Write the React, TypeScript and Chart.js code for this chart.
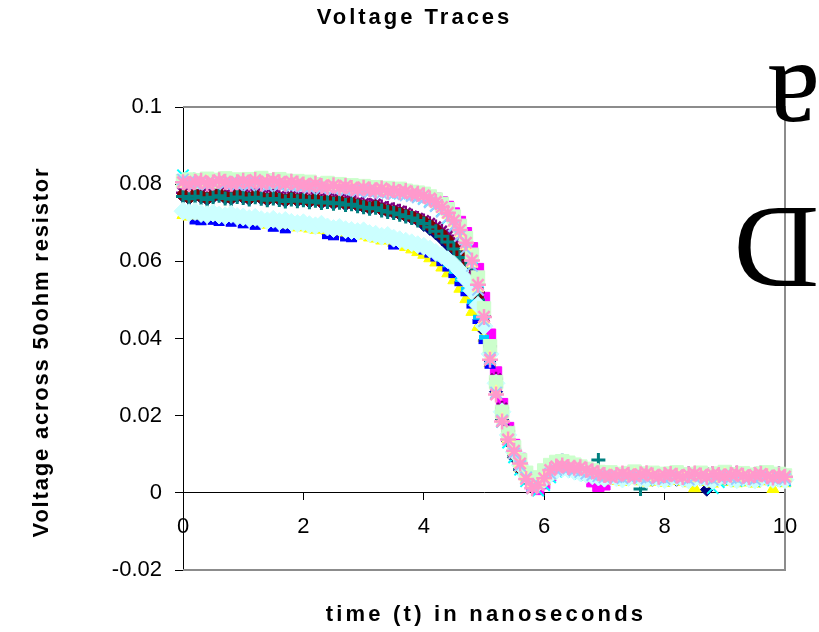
import React, { useEffect, useRef } from "react";
import { Chart, registerables } from "chart.js";

Chart.register(...registerables);

const TITLE = "Voltage Traces";
const X_TITLE = "time (t) in nanoseconds";
const Y_TITLE = "Voltage across 50ohm resistor";

const X_MIN = 0;
const X_MAX = 10;
const X_STEP = 2;
const Y_MIN = -0.02;
const Y_MAX = 0.1;
const Y_STEP = 0.02;

const TIME_NS = [
  0, 0.1, 0.2, 0.3, 0.4, 0.5, 0.6, 0.7, 0.8, 0.9,
  1, 1.1, 1.2, 1.3, 1.4, 1.5, 1.6, 1.7, 1.8, 1.9,
  2, 2.1, 2.2, 2.3, 2.4, 2.5, 2.6, 2.7, 2.8, 2.9,
  3, 3.1, 3.2, 3.3, 3.4, 3.5, 3.6, 3.7, 3.8, 3.9,
  4, 4.1, 4.2, 4.3, 4.4, 4.5, 4.6, 4.7, 4.8, 4.9,
  5, 5.1, 5.2, 5.3, 5.4, 5.5, 5.6, 5.7, 5.8, 5.9,
  6, 6.1, 6.2, 6.3, 6.4, 6.5, 6.6, 6.7, 6.8, 6.9,
  7, 7.1, 7.2, 7.3, 7.4, 7.5, 7.6, 7.7, 7.8, 7.9,
  8, 8.1, 8.2, 8.3, 8.4, 8.5, 8.6, 8.7, 8.8, 8.9,
  9, 9.1, 9.2, 9.3, 9.4, 9.5, 9.6, 9.7, 9.8, 9.9, 10,
];

const TRACE_01 = [
  0.0769, 0.0763, 0.0770, 0.0766, 0.0761, 0.0767, 0.0771, 0.0764, 0.0762, 0.0768,
  0.0765, 0.0761, 0.0767, 0.0763, 0.0759, 0.0764, 0.0760, 0.0756, 0.0761, 0.0757,
  0.0759, 0.0754, 0.0758, 0.0752, 0.0755, 0.0750, 0.0753, 0.0747, 0.0749, 0.0744,
  0.0741, 0.0737, 0.0740, 0.0733, 0.0729, 0.0726, 0.0722, 0.0717, 0.0712, 0.0706,
  0.0694, 0.0684, 0.0672, 0.0658, 0.0642, 0.0622, 0.0598, 0.0568, 0.0531, 0.0484,
  0.0420, 0.0343, 0.0262, 0.0190, 0.0133, 0.0091, 0.0058, 0.0036, 0.0023, 0.0022,
  0.0032, 0.0048, 0.0061, 0.0068, 0.0066, 0.0059, 0.0052, 0.0047, 0.0043, 0.0040,
  0.0036, 0.0040, 0.0043, 0.0039, 0.0035, 0.0041, 0.0044, 0.0038, 0.0034, 0.0040,
  0.0043, 0.0038, 0.0034, 0.0040, 0.0044, 0.0039, 0.0035, 0.0008, 0.0045, 0.0040,
  0.0036, 0.0042, 0.0046, 0.0041, 0.0037, 0.0043, 0.0047, 0.0042, 0.0038, 0.0044, 0.0040,
];

const TRACE_02 = [
  0.0803, 0.0807, 0.0801, 0.0806, 0.0809, 0.0803, 0.0807, 0.0810, 0.0804, 0.0808,
  0.0805, 0.0809, 0.0803, 0.0808, 0.0811, 0.0805, 0.0808, 0.0803, 0.0806, 0.0801,
  0.0804, 0.0799, 0.0802, 0.0796, 0.0800, 0.0795, 0.0798, 0.0793, 0.0796, 0.0791,
  0.0793, 0.0789, 0.0791, 0.0786, 0.0788, 0.0784, 0.0786, 0.0781, 0.0779, 0.0777,
  0.0774, 0.0769, 0.0762, 0.0753, 0.0741, 0.0724, 0.0702, 0.0673, 0.0634, 0.0580,
  0.0505, 0.0410, 0.0312, 0.0230, 0.0168, 0.0124, 0.0088, 0.0050, 0.0018, 0.0010,
  0.0025, 0.0045, 0.0060, 0.0068, 0.0070, 0.0066, 0.0061, 0.0055, 0.0030, 0.0018,
  0.0022, 0.0040, 0.0044, 0.0048, 0.0045, 0.0041, 0.0046, 0.0049, 0.0044, 0.0040,
  0.0044, 0.0047, 0.0042, 0.0039, 0.0045, 0.0048, 0.0043, 0.0040, 0.0046, 0.0044,
  0.0041, 0.0045, 0.0048, 0.0042, 0.0039, 0.0044, 0.0047, 0.0041, 0.0038, 0.0043, 0.0040,
];

const TRACE_03 = [
  0.0720, 0.0716, 0.0719, 0.0714, 0.0711, 0.0715, 0.0710, 0.0708, 0.0712, 0.0706,
  0.0705, 0.0701, 0.0704, 0.0698, 0.0695, 0.0699, 0.0693, 0.0696, 0.0691, 0.0688,
  0.0690, 0.0685, 0.0682, 0.0686, 0.0679, 0.0675, 0.0678, 0.0672, 0.0670, 0.0667,
  0.0669, 0.0662, 0.0659, 0.0654, 0.0655, 0.0648, 0.0643, 0.0637, 0.0631, 0.0624,
  0.0617, 0.0608, 0.0597, 0.0584, 0.0569, 0.0551, 0.0529, 0.0502, 0.0469, 0.0430,
  0.0402, 0.0336, 0.0264, 0.0196, 0.0140, 0.0098, 0.0064, 0.0040, 0.0026, 0.0022,
  0.0030, 0.0044, 0.0055, 0.0061, 0.0060, 0.0054, 0.0048, 0.0043, 0.0039, 0.0036,
  0.0032, 0.0035, 0.0031, 0.0028, 0.0033, 0.0036, 0.0030, 0.0027, 0.0032, 0.0029,
  0.0026, 0.0031, 0.0034, 0.0029, 0.0025, 0.0012, 0.0033, 0.0028, 0.0024, 0.0030,
  0.0034, 0.0028, 0.0025, 0.0031, 0.0027, 0.0024, 0.0030, 0.0033, 0.0010, 0.0029, 0.0025,
];

const TRACE_04 = [
  0.0823, 0.0815, 0.0809, 0.0812, 0.0806, 0.0810, 0.0804, 0.0808, 0.0811, 0.0805,
  0.0809, 0.0803, 0.0807, 0.0801, 0.0805, 0.0808, 0.0802, 0.0806, 0.0800, 0.0803,
  0.0798, 0.0801, 0.0795, 0.0798, 0.0792, 0.0795, 0.0790, 0.0793, 0.0787, 0.0790,
  0.0785, 0.0788, 0.0782, 0.0785, 0.0779, 0.0782, 0.0776, 0.0778, 0.0772, 0.0769,
  0.0763, 0.0755, 0.0744, 0.0730, 0.0712, 0.0690, 0.0662, 0.0627, 0.0582, 0.0520,
  0.0440, 0.0348, 0.0258, 0.0184, 0.0130, 0.0092, 0.0060, 0.0030, 0.0012, 0.0006,
  0.0020, 0.0040, 0.0055, 0.0062, 0.0060, 0.0055, 0.0050, 0.0046, 0.0043, 0.0040,
  0.0037, 0.0041, 0.0038, 0.0035, 0.0039, 0.0042, 0.0037, 0.0034, 0.0040, 0.0036,
  0.0033, 0.0038, 0.0041, 0.0036, 0.0032, 0.0037, 0.0040, 0.0035, 0.0012, 0.0028,
  0.0038, 0.0034, 0.0031, 0.0037, 0.0033, 0.0030, 0.0036, 0.0039, 0.0032, 0.0035, 0.0031,
];

const TRACE_05 = [
  0.0778, 0.0772, 0.0779, 0.0775, 0.0770, 0.0776, 0.0780, 0.0773, 0.0771, 0.0777,
  0.0774, 0.0770, 0.0776, 0.0772, 0.0768, 0.0773, 0.0769, 0.0765, 0.0770, 0.0766,
  0.0768, 0.0763, 0.0767, 0.0761, 0.0764, 0.0759, 0.0762, 0.0756, 0.0758, 0.0753,
  0.0750, 0.0746, 0.0749, 0.0742, 0.0738, 0.0735, 0.0731, 0.0726, 0.0718, 0.0712,
  0.0706, 0.0699, 0.0690, 0.0679, 0.0666, 0.0650, 0.0629, 0.0602, 0.0567, 0.0520,
  0.0458, 0.0380, 0.0296, 0.0220, 0.0160, 0.0114, 0.0078, 0.0050, 0.0032, 0.0026,
  0.0035, 0.0050, 0.0062, 0.0068, 0.0066, 0.0060, 0.0055, 0.0051, 0.0047, 0.0044,
  0.0041, 0.0045, 0.0049, 0.0046, 0.0042, 0.0047, 0.0050, 0.0045, 0.0041, 0.0046,
  0.0049, 0.0044, 0.0040, 0.0046, 0.0050, 0.0045, 0.0041, 0.0047, 0.0051, 0.0046,
  0.0042, 0.0048, 0.0052, 0.0047, 0.0043, 0.0049, 0.0053, 0.0048, 0.0044, 0.0050, 0.0046,
];

const TRACE_06 = [
  0.0772, 0.0766, 0.0773, 0.0769, 0.0764, 0.0770, 0.0774, 0.0767, 0.0765, 0.0771,
  0.0768, 0.0764, 0.0770, 0.0766, 0.0762, 0.0767, 0.0763, 0.0759, 0.0764, 0.0760,
  0.0762, 0.0757, 0.0761, 0.0755, 0.0758, 0.0753, 0.0756, 0.0750, 0.0752, 0.0747,
  0.0744, 0.0740, 0.0743, 0.0736, 0.0732, 0.0729, 0.0725, 0.0720, 0.0716, 0.0710,
  0.0702, 0.0693, 0.0682, 0.0669, 0.0654, 0.0636, 0.0614, 0.0586, 0.0551, 0.0504,
  0.0440, 0.0362, 0.0279, 0.0205, 0.0145, 0.0100, 0.0065, 0.0040, 0.0026, 0.0024,
  0.0034, 0.0051, 0.0065, 0.0073, 0.0071, 0.0063, 0.0056, 0.0051, 0.0047, 0.0044,
  0.0040, 0.0044, 0.0047, 0.0043, 0.0039, 0.0045, 0.0048, 0.0042, 0.0038, 0.0044,
  0.0047, 0.0042, 0.0038, 0.0044, 0.0048, 0.0043, 0.0039, 0.0045, 0.0049, 0.0044,
  0.0040, 0.0046, 0.0050, 0.0045, 0.0041, 0.0047, 0.0051, 0.0046, 0.0042, 0.0048, 0.0044,
];

const TRACE_07 = [
  0.0768, 0.0762, 0.0769, 0.0765, 0.0760, 0.0766, 0.0770, 0.0763, 0.0761, 0.0767,
  0.0764, 0.0760, 0.0766, 0.0762, 0.0758, 0.0763, 0.0759, 0.0755, 0.0760, 0.0756,
  0.0758, 0.0753, 0.0757, 0.0751, 0.0754, 0.0749, 0.0752, 0.0746, 0.0748, 0.0743,
  0.0740, 0.0736, 0.0739, 0.0732, 0.0728, 0.0725, 0.0721, 0.0716, 0.0712, 0.0706,
  0.0698, 0.0689, 0.0678, 0.0665, 0.0650, 0.0632, 0.0610, 0.0582, 0.0547, 0.0500,
  0.0436, 0.0358, 0.0275, 0.0201, 0.0142, 0.0098, 0.0063, 0.0039, 0.0025, 0.0023,
  0.0034, 0.0051, 0.0065, 0.0083, 0.0070, 0.0062, 0.0055, 0.0050, 0.0046, 0.0085,
  0.0039, 0.0043, 0.0046, 0.0042, 0.0038, 0.0044, 0.0010, 0.0041, 0.0037, 0.0043,
  0.0046, 0.0041, 0.0037, 0.0043, 0.0047, 0.0042, 0.0038, 0.0044, 0.0048, 0.0043,
  0.0039, 0.0045, 0.0049, 0.0044, 0.0040, 0.0046, 0.0050, 0.0045, 0.0041, 0.0047, 0.0043,
];

const TRACE_08 = [
  0.0728, 0.0722, 0.0702, 0.0700, 0.0719, 0.0701, 0.0698, 0.0715, 0.0696, 0.0713,
  0.0692, 0.0708, 0.0688, 0.0705, 0.0702, 0.0683, 0.0700, 0.0679, 0.0698, 0.0695,
  0.0697, 0.0692, 0.0689, 0.0693, 0.0664, 0.0661, 0.0685, 0.0658, 0.0656, 0.0674,
  0.0676, 0.0669, 0.0667, 0.0662, 0.0664, 0.0637, 0.0653, 0.0649, 0.0645, 0.0640,
  0.0624, 0.0616, 0.0606, 0.0594, 0.0580, 0.0563, 0.0542, 0.0516, 0.0484, 0.0444,
  0.0392, 0.0328, 0.0258, 0.0192, 0.0138, 0.0097, 0.0065, 0.0041, 0.0027, 0.0024,
  0.0032, 0.0045, 0.0056, 0.0062, 0.0061, 0.0055, 0.0049, 0.0044, 0.0040, 0.0037,
  0.0033, 0.0036, 0.0032, 0.0029, 0.0034, 0.0037, 0.0031, 0.0028, 0.0033, 0.0030,
  0.0027, 0.0032, 0.0035, 0.0030, 0.0026, 0.0031, 0.0034, 0.0029, 0.0025, 0.0031,
  0.0035, 0.0029, 0.0026, 0.0032, 0.0028, 0.0025, 0.0031, 0.0034, 0.0027, 0.0030, 0.0026,
];

const TRACE_09 = [
  0.0728, 0.0724, 0.0720, 0.0725, 0.0719, 0.0716, 0.0721, 0.0714, 0.0711, 0.0715,
  0.0709, 0.0706, 0.0710, 0.0703, 0.0700, 0.0704, 0.0698, 0.0701, 0.0695, 0.0697,
  0.0692, 0.0689, 0.0692, 0.0685, 0.0682, 0.0686, 0.0679, 0.0676, 0.0678, 0.0672,
  0.0674, 0.0668, 0.0665, 0.0668, 0.0661, 0.0658, 0.0654, 0.0650, 0.0645, 0.0640,
  0.0635, 0.0627, 0.0617, 0.0605, 0.0591, 0.0574, 0.0553, 0.0527, 0.0495, 0.0455,
  0.0403, 0.0338, 0.0267, 0.0200, 0.0144, 0.0102, 0.0068, 0.0044, 0.0029, 0.0026,
  0.0034, 0.0047, 0.0058, 0.0064, 0.0063, 0.0057, 0.0051, 0.0046, 0.0042, 0.0039,
  0.0035, 0.0038, 0.0034, 0.0031, 0.0036, 0.0039, 0.0033, 0.0030, 0.0035, 0.0032,
  0.0029, 0.0034, 0.0037, 0.0032, 0.0028, 0.0033, 0.0036, 0.0031, 0.0027, 0.0033,
  0.0037, 0.0031, 0.0028, 0.0034, 0.0030, 0.0027, 0.0033, 0.0036, 0.0029, 0.0032, 0.0028,
];

const TRACE_10 = [
  0.0730, 0.0726, 0.0729, 0.0724, 0.0721, 0.0725, 0.0720, 0.0718, 0.0722, 0.0716,
  0.0715, 0.0711, 0.0714, 0.0708, 0.0705, 0.0709, 0.0703, 0.0706, 0.0701, 0.0698,
  0.0700, 0.0695, 0.0692, 0.0696, 0.0689, 0.0685, 0.0688, 0.0682, 0.0680, 0.0677,
  0.0679, 0.0672, 0.0670, 0.0665, 0.0667, 0.0660, 0.0656, 0.0652, 0.0648, 0.0643,
  0.0639, 0.0632, 0.0623, 0.0615, 0.0604, 0.0592, 0.0575, 0.0553, 0.0524, 0.0486,
  0.0432, 0.0360, 0.0284, 0.0210, 0.0150, 0.0106, 0.0072, 0.0046, 0.0030, 0.0026,
  0.0035, 0.0048, 0.0057, 0.0063, 0.0061, 0.0056, 0.0052, 0.0048, 0.0044, 0.0041,
  0.0038, 0.0042, 0.0039, 0.0036, 0.0040, 0.0043, 0.0038, 0.0035, 0.0041, 0.0037,
  0.0034, 0.0039, 0.0042, 0.0037, 0.0033, 0.0038, 0.0041, 0.0036, 0.0032, 0.0039,
  0.0043, 0.0037, 0.0034, 0.0040, 0.0036, 0.0033, 0.0039, 0.0042, 0.0035, 0.0038, 0.0034,
];

const TRACE_11 = [
  0.0808, 0.0812, 0.0806, 0.0810, 0.0814, 0.0807, 0.0811, 0.0815, 0.0809, 0.0812,
  0.0806, 0.0813, 0.0809, 0.0816, 0.0810, 0.0807, 0.0813, 0.0809, 0.0804, 0.0808,
  0.0803, 0.0806, 0.0800, 0.0798, 0.0803, 0.0797, 0.0800, 0.0794, 0.0797, 0.0792,
  0.0795, 0.0790, 0.0792, 0.0787, 0.0790, 0.0785, 0.0788, 0.0783, 0.0780, 0.0778,
  0.0775, 0.0768, 0.0760, 0.0749, 0.0735, 0.0716, 0.0692, 0.0660, 0.0617, 0.0558,
  0.0478, 0.0380, 0.0287, 0.0210, 0.0155, 0.0118, 0.0085, 0.0052, 0.0030, 0.0040,
  0.0058, 0.0072, 0.0080, 0.0082, 0.0078, 0.0073, 0.0068, 0.0062, 0.0058, 0.0054,
  0.0050, 0.0053, 0.0049, 0.0046, 0.0051, 0.0055, 0.0050, 0.0047, 0.0052, 0.0049,
  0.0045, 0.0050, 0.0053, 0.0048, 0.0044, 0.0049, 0.0052, 0.0047, 0.0043, 0.0050,
  0.0054, 0.0048, 0.0045, 0.0051, 0.0047, 0.0044, 0.0050, 0.0053, 0.0046, 0.0049, 0.0045,
];

const TRACE_12 = [
  0.0802, 0.0806, 0.0800, 0.0804, 0.0807, 0.0801, 0.0805, 0.0808, 0.0802, 0.0806,
  0.0803, 0.0807, 0.0801, 0.0805, 0.0808, 0.0802, 0.0806, 0.0800, 0.0804, 0.0799,
  0.0801, 0.0796, 0.0799, 0.0793, 0.0797, 0.0791, 0.0794, 0.0789, 0.0792, 0.0787,
  0.0789, 0.0784, 0.0787, 0.0782, 0.0784, 0.0779, 0.0781, 0.0777, 0.0774, 0.0771,
  0.0766, 0.0759, 0.0749, 0.0736, 0.0720, 0.0699, 0.0673, 0.0639, 0.0594, 0.0530,
  0.0448, 0.0352, 0.0262, 0.0190, 0.0141, 0.0106, 0.0074, 0.0042, 0.0020, 0.0024,
  0.0040, 0.0056, 0.0065, 0.0069, 0.0066, 0.0063, 0.0060, 0.0056, 0.0052, 0.0048,
  0.0044, 0.0047, 0.0043, 0.0040, 0.0045, 0.0048, 0.0043, 0.0040, 0.0046, 0.0043,
  0.0039, 0.0044, 0.0047, 0.0042, 0.0038, 0.0043, 0.0046, 0.0041, 0.0037, 0.0044,
  0.0048, 0.0042, 0.0039, 0.0045, 0.0041, 0.0038, 0.0044, 0.0047, 0.0040, 0.0043, 0.0039,
];

const TRACE_13 = [
  0.0812, 0.0806, 0.0801, 0.0805, 0.0799, 0.0803, 0.0807, 0.0800, 0.0804, 0.0798,
  0.0802, 0.0797, 0.0804, 0.0799, 0.0795, 0.0801, 0.0796, 0.0799, 0.0794, 0.0797,
  0.0793, 0.0790, 0.0794, 0.0788, 0.0791, 0.0786, 0.0789, 0.0784, 0.0786, 0.0781,
  0.0784, 0.0779, 0.0781, 0.0776, 0.0779, 0.0774, 0.0776, 0.0771, 0.0769, 0.0766,
  0.0761, 0.0753, 0.0743, 0.0729, 0.0713, 0.0692, 0.0666, 0.0632, 0.0588, 0.0526,
  0.0445, 0.0350, 0.0260, 0.0188, 0.0138, 0.0102, 0.0070, 0.0040, 0.0018, 0.0022,
  0.0037, 0.0050, 0.0059, 0.0065, 0.0063, 0.0058, 0.0054, 0.0050, 0.0046, 0.0043,
  0.0040, 0.0044, 0.0041, 0.0038, 0.0042, 0.0045, 0.0040, 0.0037, 0.0043, 0.0039,
  0.0036, 0.0041, 0.0044, 0.0039, 0.0035, 0.0040, 0.0043, 0.0038, 0.0034, 0.0041,
  0.0045, 0.0039, 0.0036, 0.0042, 0.0038, 0.0035, 0.0041, 0.0044, 0.0037, 0.0040, 0.0036,
];

const TRACE_14 = [
  0.0805, 0.0800, 0.0806, 0.0809, 0.0802, 0.0804, 0.0810, 0.0806, 0.0801, 0.0805,
  0.0809, 0.0804, 0.0811, 0.0802, 0.0806, 0.0810, 0.0805, 0.0801, 0.0806, 0.0802,
  0.0799, 0.0796, 0.0801, 0.0795, 0.0792, 0.0797, 0.0791, 0.0795, 0.0790, 0.0786,
  0.0791, 0.0786, 0.0784, 0.0789, 0.0781, 0.0785, 0.0780, 0.0782, 0.0776, 0.0775,
  0.0771, 0.0763, 0.0754, 0.0741, 0.0726, 0.0706, 0.0681, 0.0648, 0.0602, 0.0539,
  0.0456, 0.0345, 0.0255, 0.0185, 0.0138, 0.0109, 0.0076, 0.0036, 0.0012, 0.0020,
  0.0038, 0.0059, 0.0068, 0.0071, 0.0067, 0.0065, 0.0066, 0.0060, 0.0056, 0.0051,
  0.0046, 0.0042, 0.0046, 0.0050, 0.0047, 0.0043, 0.0048, 0.0051, 0.0045, 0.0042,
  0.0046, 0.0049, 0.0044, 0.0041, 0.0047, 0.0050, 0.0045, 0.0042, 0.0048, 0.0046,
  0.0043, 0.0047, 0.0050, 0.0044, 0.0041, 0.0046, 0.0049, 0.0043, 0.0040, 0.0045, 0.0042,
];

const SERIES_NAMES = [
  "Series1", "Series2", "Series3", "Series4", "Series5", "Series6", "Series7",
  "Series8", "Series9", "Series10", "Series11", "Series12", "Series13", "Series14",
];
const SERIES_VALUES = [
  TRACE_01, TRACE_02, TRACE_03, TRACE_04, TRACE_05, TRACE_06, TRACE_07,
  TRACE_08, TRACE_09, TRACE_10, TRACE_11, TRACE_12, TRACE_13, TRACE_14,
];

// marker styling (Excel-like default sequence)
const MARKERS = [
  { color: "#000080", style: "rectRot", r: 6.5, lw: 1 },
  { color: "#FF00FF", style: "rect", r: 8, lw: 1 },
  { color: "#FFFF00", style: "triangle", r: 7, lw: 1 },
  { color: "#00FFFF", style: "crossRot", r: 8, lw: 2 },
  { color: "#800080", style: "star", r: 7, lw: 2.5 },
  { color: "#800000", style: "circle", r: 5.5, lw: 1 },
  { color: "#008080", style: "cross", r: 7, lw: 3 },
  { color: "#0000FF", style: "line", r: 5.5, lw: 5 },
  { color: "#00CCFF", style: "line", r: 5, lw: 5 },
  { color: "#CCFFFF", style: "rectRot", r: 9, lw: 1 },
  { color: "#CCFFCC", style: "rect", r: 9.5, lw: 1 },
  { color: "#FFFF99", style: "triangle", r: 7, lw: 1 },
  { color: "#99CCFF", style: "crossRot", r: 8, lw: 2 },
  { color: "#FF99CC", style: "star", r: 8, lw: 2.5 },
];

const SANS = '"Liberation Sans", Arial, sans-serif';
const SERIF = '"Liberation Serif", "Times New Roman", serif';

function setSpacing(ctx: any, px: number) {
  if ("letterSpacing" in ctx) ctx.letterSpacing = px + "px";
}

const framePlugin = {
  id: "plotFrame",
  beforeDatasetsDraw(chart: any) {
    const { ctx, chartArea: a } = chart;
    ctx.save();
    ctx.strokeStyle = "#8c8c8c";
    ctx.lineWidth = 2;
    ctx.beginPath();
    ctx.moveTo(a.left, a.top);
    ctx.lineTo(a.right, a.top);
    ctx.lineTo(a.right, a.bottom);
    ctx.lineTo(a.left, a.bottom);
    ctx.stroke();
    ctx.restore();
  },
};

const textPlugin = {
  id: "texts",
  afterDraw(chart: any) {
    const { ctx, chartArea: a, width } = chart;
    ctx.save();
    ctx.fillStyle = "#000";
    ctx.textBaseline = "alphabetic";
    ctx.textAlign = "center";

    ctx.font = "bold 22px " + SANS;
    setSpacing(ctx, 3);
    ctx.fillText(TITLE, width / 2 + 5, 24);

    setSpacing(ctx, 3.2);
    ctx.fillText(X_TITLE, (a.left + a.right) / 2 + 2, 621);

    setSpacing(ctx, 1.8);
    ctx.save();
    ctx.translate(48, 353);
    ctx.rotate(-Math.PI / 2);
    ctx.fillText(Y_TITLE, 1, 0);
    ctx.restore();

    // partially visible, upside-down legend glyphs at the right edge
    setSpacing(ctx, 0);
    ctx.font = "118px " + SERIF;
    ctx.textAlign = "left";
    ctx.save();
    ctx.translate(820, 66);
    ctx.rotate(Math.PI);
    ctx.fillText("a", 0, 0);
    ctx.restore();
    ctx.save();
    ctx.translate(819, 208);
    ctx.rotate(Math.PI);
    ctx.fillText("D", 0, 0);
    ctx.restore();

    ctx.restore();
  },
};

export default function App() {
  const ref = useRef<HTMLCanvasElement | null>(null);

  useEffect(() => {
    if (!ref.current) return;
    const n = SERIES_VALUES.length;
    const datasets = SERIES_VALUES.map((vals, i) => {
      const m = MARKERS[i];
      return {
        label: SERIES_NAMES[i],
        data: TIME_NS.map((t, j) => ({ x: t, y: vals[j] })),
        showLine: false,
        pointStyle: m.style,
        pointRadius: m.r,
        pointBackgroundColor: m.color,
        pointBorderColor: m.color,
        pointBorderWidth: m.lw,
        order: n - i,
        clip: false,
      };
    });

    const chart = new Chart(ref.current, {
      type: "scatter",
      data: { datasets },
      plugins: [framePlugin, textPlugin],
      options: {
        animation: false,
        responsive: false,
        devicePixelRatio: 1,
        events: [],
        layout: { padding: { left: 0, top: 107, right: 34, bottom: 62 } },
        plugins: {
          legend: { display: false },
          title: { display: false },
          tooltip: { enabled: false },
        },
        scales: {
          x: {
            type: "linear",
            position: { y: 0 },
            min: X_MIN,
            max: X_MAX,
            ticks: {
              stepSize: X_STEP,
              color: "#000",
              padding: 14,
              font: { family: SANS, size: 22 },
              maxRotation: 0,
            },
            grid: { drawOnChartArea: false, drawTicks: true, tickLength: 7, color: "#000" },
            border: { display: true, color: "#000", width: 1 },
          },
          y: {
            type: "linear",
            position: "left",
            min: Y_MIN,
            max: Y_MAX,
            afterFit: (s: any) => {
              s.width = 183;
            },
            ticks: {
              stepSize: Y_STEP,
              color: "#000",
              padding: 13,
              font: { family: SANS, size: 22 },
              callback: (v: any) => String(Math.round(Number(v) * 100) / 100),
            },
            grid: { drawOnChartArea: false, drawTicks: true, tickLength: 8, color: "#000" },
            border: { display: true, color: "#000", width: 1 },
          },
        },
      },
    } as any);
    return () => chart.destroy();
  }, []);

  return (
    <div
      style={{
        position: "fixed",
        left: 0,
        top: 0,
        width: 819,
        height: 632,
        background: "#fff",
      }}
    >
      <canvas ref={ref} width={819} height={632} />
    </div>
  );
}
